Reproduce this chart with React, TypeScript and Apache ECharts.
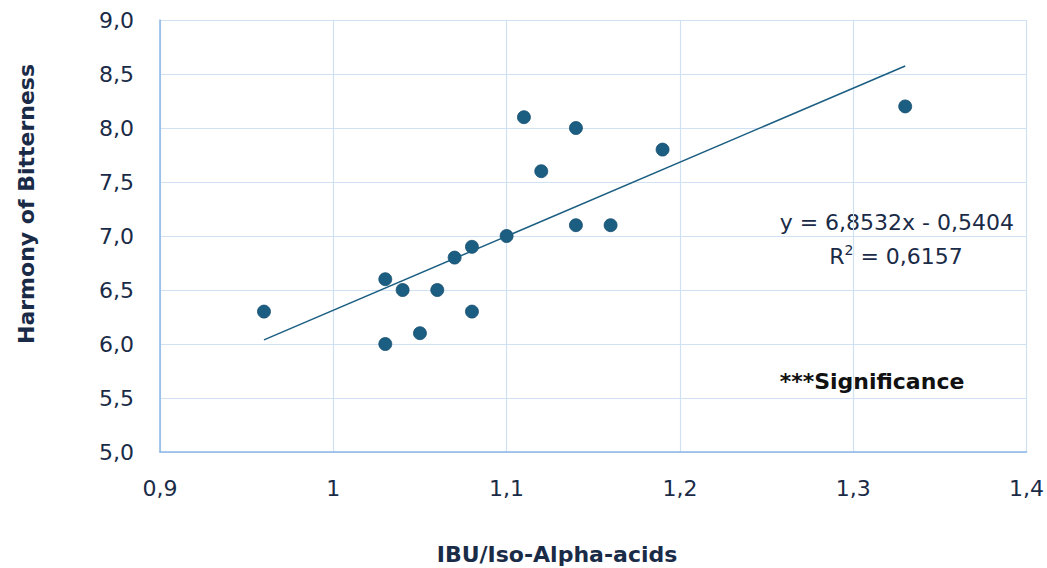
import React, { useEffect, useRef } from "react";
import * as echarts from "echarts";

const xValues = [0.96, 1.03, 1.03, 1.04, 1.05, 1.06, 1.07, 1.08, 1.08, 1.10, 1.11, 1.12, 1.14, 1.14, 1.16, 1.19, 1.33];
const yValues = [6.3, 6.6, 6.0, 6.5, 6.1, 6.5, 6.8, 6.9, 6.3, 7.0, 8.1, 7.6, 8.0, 7.1, 7.1, 7.8, 8.2];
const slope = 6.8532;
const intercept = -0.5404;
const trendX = [0.96, 1.33];
const equationText = "y = 6,8532x - 0,5404";
const r2Text = "R{sup|2} = 0,6157";
const noteText = "***Significance";
const xTitle = "IBU/Iso-Alpha-acids";
const yTitle = "Harmony of Bitterness";

const fmt = (v: number, decimals: number) => {
  if (decimals === 0 && Math.abs(v - Math.round(v)) < 1e-9) return String(Math.round(v));
  return v.toFixed(decimals).replace(".", ",");
};

export default function App() {
  const ref = useRef<HTMLDivElement>(null);
  useEffect(() => {
    if (!ref.current) return;
    const chart = echarts.init(ref.current, null, { renderer: "svg" });
    const textColor = "#1a2b47";
    const font = "'DejaVu Sans', sans-serif";
    chart.setOption({
      animation: false,
      grid: { left: 160, right: 20, top: 20, bottom: 116 },
      xAxis: {
        type: "value",
        min: 0.9,
        max: 1.4,
        interval: 0.1,
        axisLine: { show: true, lineStyle: { color: "#8db6e6", width: 1.5 } },
        axisTick: { show: false },
        splitLine: { show: true, lineStyle: { color: "#d0e1f4", width: 1.2 } },
        axisLabel: {
          color: textColor,
          fontSize: 22,
          fontFamily: font,
          margin: 25,
          formatter: (v: number) => (Math.abs(v - 1) < 1e-9 ? "1" : fmt(v, 1)),
        },
      },
      yAxis: {
        type: "value",
        min: 5,
        max: 9,
        interval: 0.5,
        axisLine: { show: true, lineStyle: { color: "#8db6e6", width: 1.5 } },
        axisTick: { show: false },
        splitLine: { show: true, lineStyle: { color: "#d0e1f4", width: 1.2 } },
        axisLabel: {
          color: textColor,
          fontSize: 22,
          fontFamily: font,
          margin: 26,
          formatter: (v: number) => fmt(v, 1),
        },
      },
      series: [
        {
          type: "line",
          data: trendX.map((x) => [x, slope * x + intercept]),
          symbol: "none",
          lineStyle: { color: "#1b5e82", width: 1.5 },
          silent: true,
        },
        {
          type: "scatter",
          data: xValues.map((x, i) => [x, yValues[i]]),
          symbolSize: 13,
          itemStyle: { color: "#1b5e82", borderColor: "#164f70", borderWidth: 0.8, opacity: 1 },
        },
      ],
      graphic: [
        {
          type: "text",
          x: 557,
          y: 554,
          style: {
            text: xTitle,
            fill: textColor,
            font: `bold 22px ${font}`,
            textAlign: "center",
            textVerticalAlign: "middle",
          },
        },
        {
          type: "text",
          x: 26,
          y: 204,
          rotation: Math.PI / 2,
          style: {
            text: yTitle,
            fill: textColor,
            font: `bold 22px ${font}`,
            textAlign: "center",
            textVerticalAlign: "middle",
          },
        },
        {
          type: "text",
          x: 1014,
          y: 222,
          style: {
            text: equationText,
            fill: textColor,
            font: `22px ${font}`,
            textAlign: "right",
            textVerticalAlign: "middle",
          },
        },
        {
          type: "text",
          x: 896,
          y: 256,
          style: {
            text: r2Text,
            fill: textColor,
            font: `22px ${font}`,
            textAlign: "center",
            textVerticalAlign: "middle",
            rich: {
              sup: { fontSize: 14, fill: textColor, fontFamily: font, verticalAlign: "top", padding: [0, 0, 12, 0] },
            },
          },
        },
        {
          type: "text",
          x: 872,
          y: 381,
          style: {
            text: noteText,
            fill: "#111111",
            font: `bold 22px ${font}`,
            textAlign: "center",
            textVerticalAlign: "middle",
          },
        },
      ],
    });
    return () => chart.dispose();
  }, []);
  return (
    <div
      ref={ref}
      style={{ position: "absolute", left: 0, top: 0, width: 1047, height: 568 }}
    />
  );
}
